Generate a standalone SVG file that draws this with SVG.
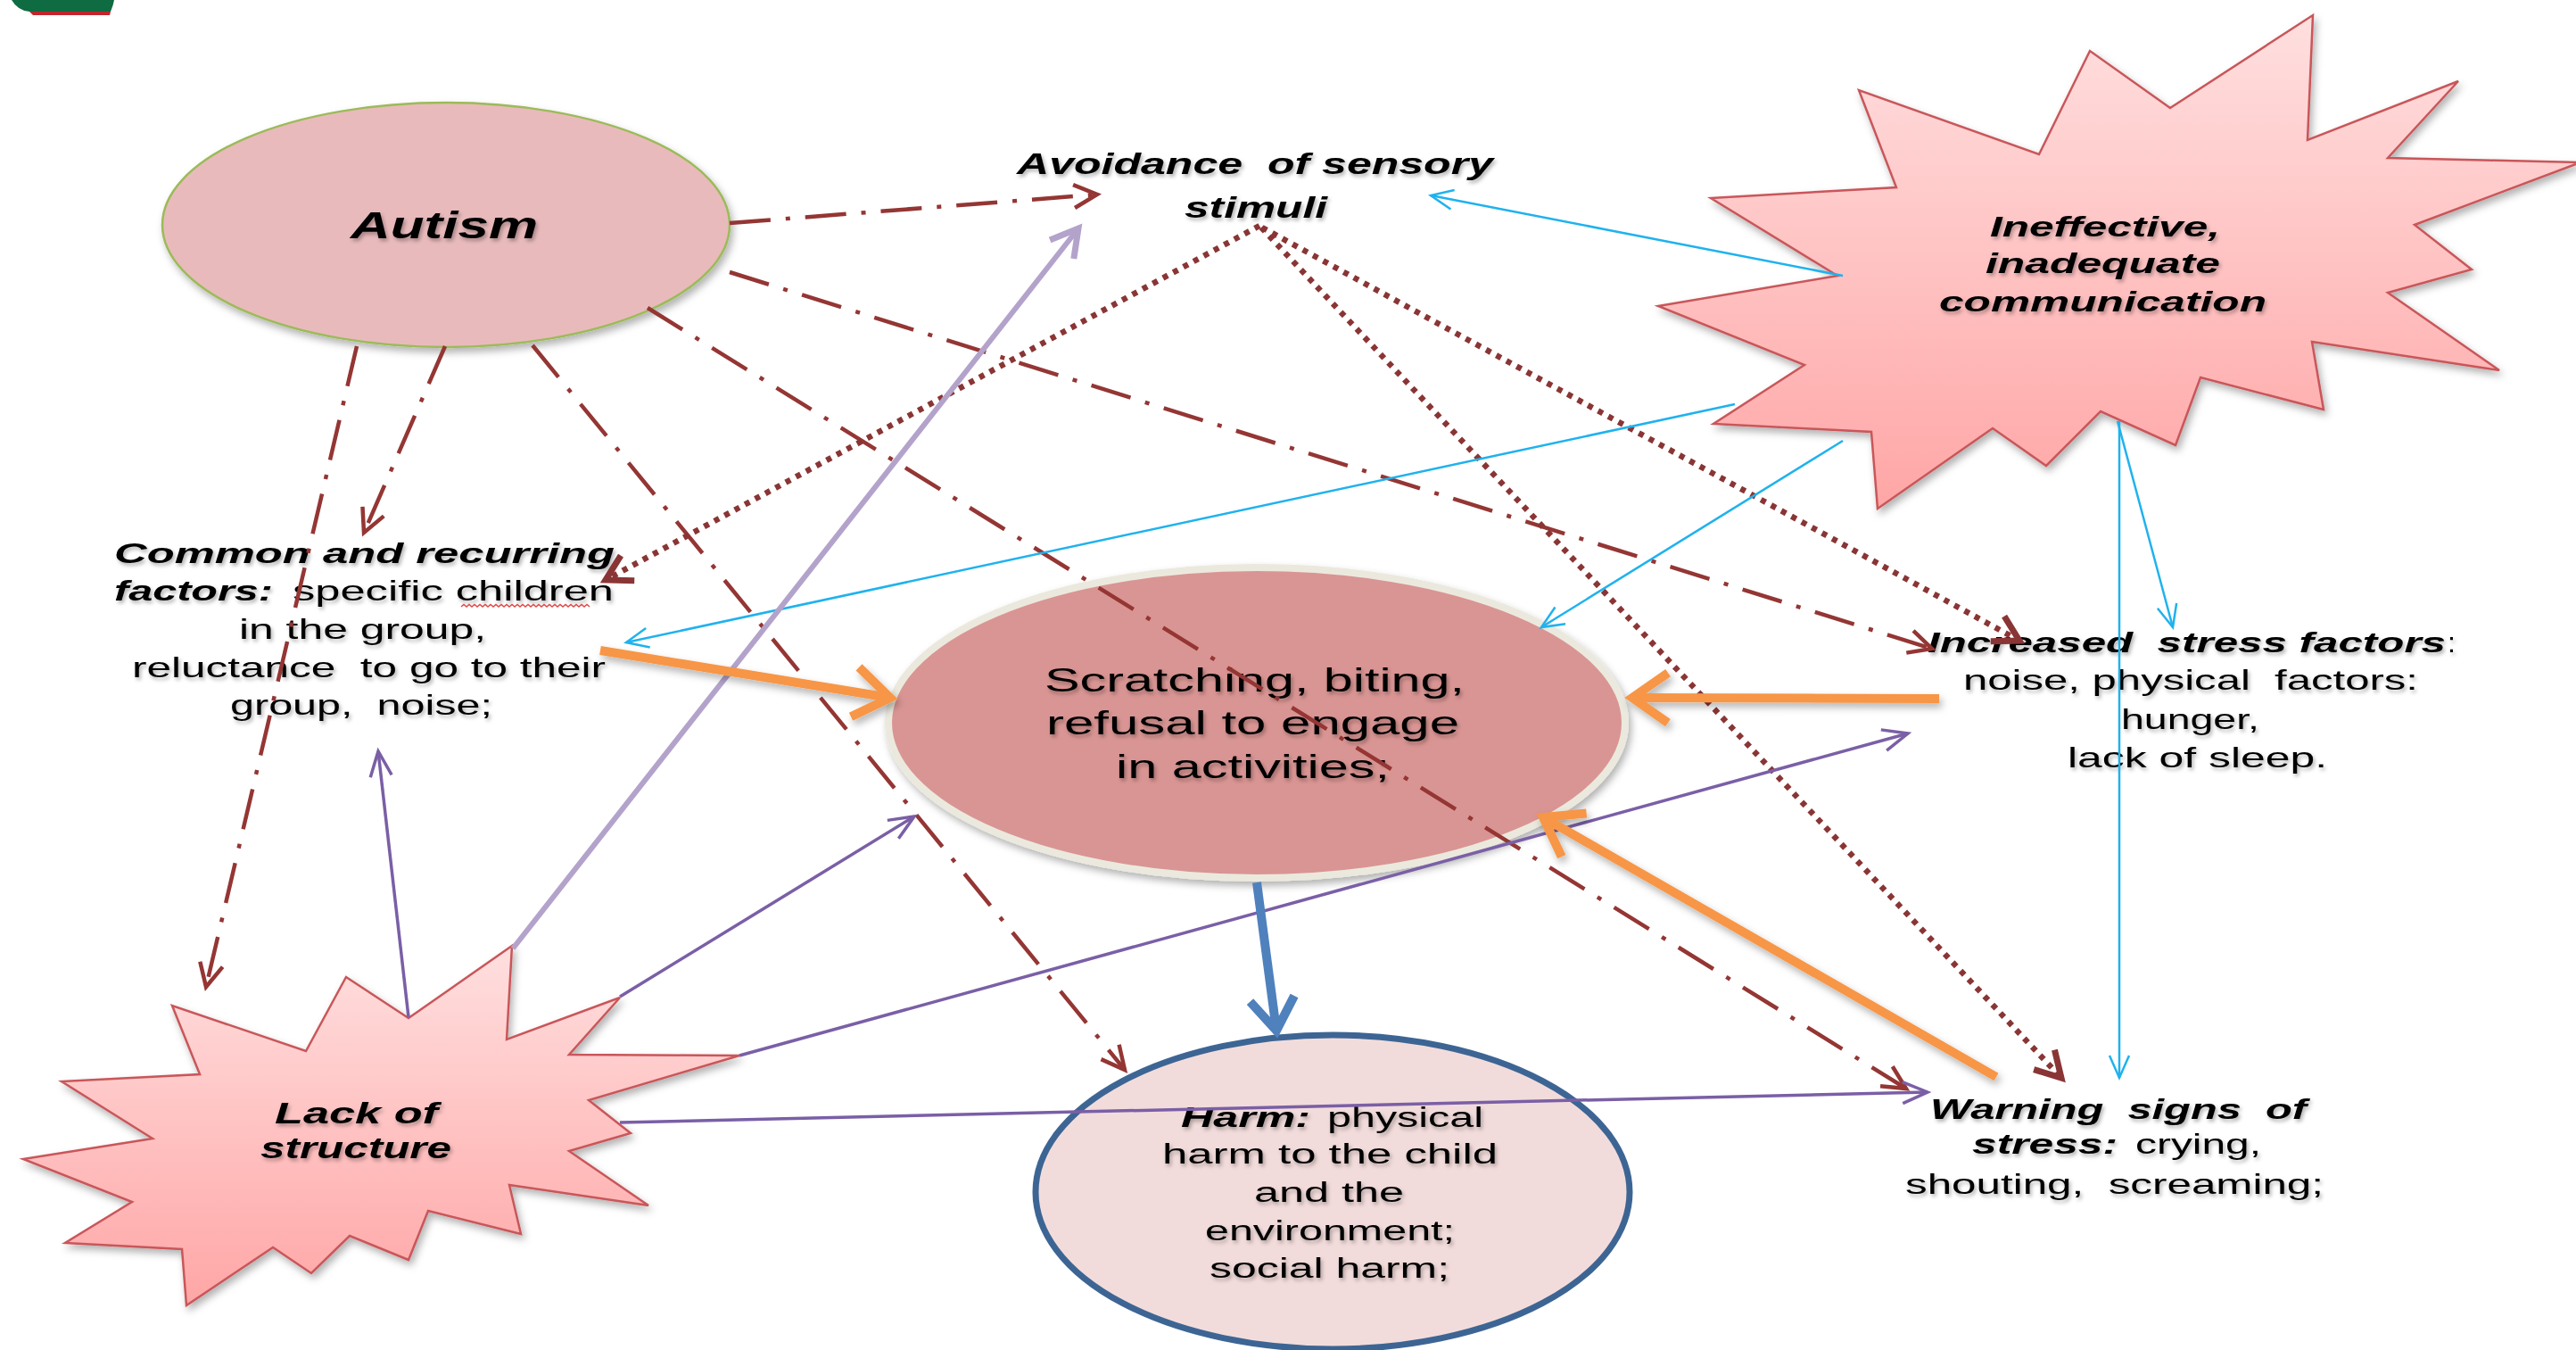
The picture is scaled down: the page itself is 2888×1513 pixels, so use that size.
<svg xmlns="http://www.w3.org/2000/svg" width="2888" height="1513" viewBox="0 0 2888 1513">
<style>
text{font-family:"Liberation Sans",Arial,sans-serif;fill:#000;white-space:pre}
.bi{font-weight:bold;font-style:italic}
.t{filter:url(#tsh)}
.dd{fill:none;stroke:#943634;stroke-width:4.5;stroke-dasharray:46 17 5 17}
.dot{fill:none;stroke:#8a3535;stroke-width:6.5;stroke-dasharray:6 7}
.cy{fill:none;stroke:#1fb2ee;stroke-width:2.5}
.pu{fill:none;stroke:#7a5fa6;stroke-width:3.5}
.lav{fill:none;stroke:#b3a3cb;stroke-width:6}
.or{fill:none;stroke:#f79646;stroke-width:10}
.bl{fill:none;stroke:#4f81bd;stroke-width:10}
.star{stroke:#c9575a;stroke-width:2.5;stroke-linejoin:miter}
</style>
<defs>
<filter id="tsh" filterUnits="userSpaceOnUse" x="0" y="0" width="2888" height="1513">
<feDropShadow dx="2" dy="3" stdDeviation="2" flood-color="#000" flood-opacity="0.3"/>
</filter>
<filter id="sh" filterUnits="userSpaceOnUse" x="0" y="0" width="2888" height="1513">
<feDropShadow dx="3" dy="5" stdDeviation="4" flood-color="#000" flood-opacity="0.3"/>
</filter>
<linearGradient id="gStar" x1="0" y1="0" x2="0" y2="1">
<stop offset="0" stop-color="#ffdfdf"/>
<stop offset="1" stop-color="#ffa6a6"/>
</linearGradient>
<marker id="mBr" markerUnits="userSpaceOnUse" orient="auto" style="overflow:visible">
<path d="M-26,-13 L0,0 L-26,13" fill="none" stroke="#943634" stroke-width="4.5"/>
</marker>
<marker id="mDot" markerUnits="userSpaceOnUse" orient="auto" style="overflow:visible">
<path d="M-28,-16 L0,0 L-28,16" fill="none" stroke="#8a3535" stroke-width="7"/>
</marker>
<marker id="mCy" markerUnits="userSpaceOnUse" orient="auto" style="overflow:visible">
<path d="M-25,-11 L0,0 L-25,11" fill="none" stroke="#1fb2ee" stroke-width="2.5"/>
</marker>
<marker id="mPu" markerUnits="userSpaceOnUse" orient="auto" style="overflow:visible">
<path d="M-28,-12 L0,0 L-28,12" fill="none" stroke="#7a5fa6" stroke-width="3.5"/>
</marker>
<marker id="mLav" markerUnits="userSpaceOnUse" orient="auto" style="overflow:visible">
<path d="M-30,-17 L0,0 L-30,17" fill="none" stroke="#b3a3cb" stroke-width="7"/>
</marker>
<marker id="mOr" markerUnits="userSpaceOnUse" orient="auto" style="overflow:visible">
<path d="M-40,-28 L0,0 L-40,28" fill="none" stroke="#f79646" stroke-width="10"/>
</marker>
<marker id="mBl" markerUnits="userSpaceOnUse" orient="auto" style="overflow:visible">
<path d="M-36,-25 L0,0 L-36,25" fill="none" stroke="#4f81bd" stroke-width="10"/>
</marker>
</defs>
<rect width="2888" height="1513" fill="#fff"/>
<g id="logo">
<path d="M13,0 Q20,12 33,13 L124,13 Q127,6 128,0 Z" fill="#0f6b42"/>
<path d="M33,13 L124,13 L123,17 L37,17 Z" fill="#c0262d"/>
</g>
<g id="node-autism">
<ellipse cx="500" cy="252" rx="318" ry="137" fill="#e9babc" stroke="#9bbb59" stroke-width="2.5" filter="url(#sh)"/>
<text class="bi t" x="393" y="267" font-size="42" textLength="210" lengthAdjust="spacingAndGlyphs">Autism</text>
</g>
<g id="node-avoidance">
<text class="bi t" x="1140" y="195" font-size="33" textLength="534" lengthAdjust="spacingAndGlyphs">Avoidance  of sensory</text>
<text class="bi t" x="1328" y="244" font-size="33" textLength="160" lengthAdjust="spacingAndGlyphs">stimuli</text>
</g>
<g id="node-ineffective">
<polygon class="star" fill="url(#gStar)" filter="url(#sh)" points="2593,17 2587,157 2756,91 2677,177 2893,182 2707,252 2771,302 2677,328 2802,415 2592,383 2605,459 2467,423 2439,499 2355,461 2294,522 2234,480 2105,570 2098,484 1921,475 2023,409 1859,343 2060,309 1918,222 2126,210 2084,101 2286,173 2343,57 2433,121"/>
<text class="bi t" x="2231" y="265" font-size="31" textLength="258" lengthAdjust="spacingAndGlyphs">Ineffective,</text>
<text class="bi t" x="2226" y="306" font-size="31" textLength="263" lengthAdjust="spacingAndGlyphs">inadequate</text>
<text class="bi t" x="2174" y="349" font-size="31" textLength="367" lengthAdjust="spacingAndGlyphs">communication</text>
</g>
<g id="node-common">
<text class="bi t" x="128" y="631" font-size="31" textLength="561" lengthAdjust="spacingAndGlyphs">Common and recurring</text>
<text class="bi t" x="128" y="673" font-size="31" textLength="178" lengthAdjust="spacingAndGlyphs">factors:</text>
<text class="t" x="328" y="673" font-size="32" textLength="360" lengthAdjust="spacingAndGlyphs">specific children</text>
<path d="M517,680 l3,-2.5 l3,2.5 l3,-2.5 l3,2.5 l3,-2.5 l3,2.5 l3,-2.5 l3,2.5 l3,-2.5 l3,2.5 l3,-2.5 l3,2.5 l3,-2.5 l3,2.5 l3,-2.5 l3,2.5 l3,-2.5 l3,2.5 l3,-2.5 l3,2.5 l3,-2.5 l3,2.5 l3,-2.5 l3,2.5 l3,-2.5 l3,2.5 l3,-2.5 l3,2.5 l3,-2.5 l3,2.5 l3,-2.5 l3,2.5 l3,-2.5 l3,2.5 l3,-2.5 l3,2.5 l3,-2.5 l3,2.5 l3,-2.5 l3,2.5 l3,-2.5 l3,2.5 l3,-2.5 l3,2.5 l3,-2.5 l3,2.5 l3,-2.5 l3,2.5" fill="none" stroke="#e04848" stroke-width="1.5"/>
<text class="t" x="268" y="716" font-size="32" textLength="277" lengthAdjust="spacingAndGlyphs">in the group,</text>
<text class="t" x="148" y="759" font-size="32" textLength="531" lengthAdjust="spacingAndGlyphs">reluctance  to go to their</text>
<text class="t" x="258" y="801" font-size="32" textLength="294" lengthAdjust="spacingAndGlyphs">group,  noise;</text>
</g>
<g id="node-scratching">
<ellipse cx="1409" cy="810" rx="413" ry="174" fill="#d99593" stroke="#ebe9dd" stroke-width="8" filter="url(#sh)"/>
<text class="t" x="1171" y="775" font-size="37" textLength="471" lengthAdjust="spacingAndGlyphs">Scratching, biting,</text>
<text class="t" x="1173" y="823" font-size="37" textLength="463" lengthAdjust="spacingAndGlyphs">refusal to engage</text>
<text class="t" x="1251" y="872" font-size="37" textLength="307" lengthAdjust="spacingAndGlyphs">in activities;</text>
</g>
<g id="node-increased">
<text class="bi t" x="2161" y="731" font-size="32" textLength="581" lengthAdjust="spacingAndGlyphs">Increased  stress factors</text>
<text class="t" x="2744" y="731" font-size="32">:</text>
<text class="t" x="2201" y="773" font-size="32" textLength="510" lengthAdjust="spacingAndGlyphs">noise, physical  factors:</text>
<text class="t" x="2378" y="817" font-size="32" textLength="155" lengthAdjust="spacingAndGlyphs">hunger,</text>
<text class="t" x="2318" y="860" font-size="32" textLength="291" lengthAdjust="spacingAndGlyphs">lack of sleep.</text>
</g>
<g id="node-lack">
<polygon class="star" fill="url(#gStar)" filter="url(#sh)" points="574,1060 568,1165 695,1118 638,1182 829,1183 660,1233 707,1270 638,1290 727,1351 571,1328 584,1383 480,1357 458,1412 392,1385 349,1427 306,1398 209,1463 204,1400 73,1393 148,1347 26,1299 171,1276 69,1212 224,1204 193,1127 343,1178 388,1095 458,1141"/>
<text class="bi t" x="308" y="1259" font-size="33" textLength="183" lengthAdjust="spacingAndGlyphs">Lack of</text>
<text class="bi t" x="292" y="1298" font-size="33" textLength="214" lengthAdjust="spacingAndGlyphs">structure</text>
</g>
<g id="node-harm">
<ellipse cx="1494" cy="1336" rx="333" ry="176" fill="#f2dcdb" stroke="#3d6594" stroke-width="7"/>
<text class="bi t" x="1324" y="1263" font-size="31" textLength="145" lengthAdjust="spacingAndGlyphs">Harm:</text>
<text class="t" x="1488" y="1263" font-size="31" textLength="175" lengthAdjust="spacingAndGlyphs">physical</text>
<text class="t" x="1303" y="1304" font-size="31" textLength="376" lengthAdjust="spacingAndGlyphs">harm to the child</text>
<text class="t" x="1406" y="1347" font-size="31" textLength="168" lengthAdjust="spacingAndGlyphs">and the</text>
<text class="t" x="1351" y="1390" font-size="31" textLength="280" lengthAdjust="spacingAndGlyphs">environment;</text>
<text class="t" x="1356" y="1432" font-size="31" textLength="269" lengthAdjust="spacingAndGlyphs">social harm;</text>
</g>
<g id="node-warning">
<text class="bi t" x="2164" y="1254" font-size="32" textLength="422" lengthAdjust="spacingAndGlyphs">Warning  signs  of</text>
<text class="bi t" x="2211" y="1293" font-size="32" textLength="163" lengthAdjust="spacingAndGlyphs">stress:</text>
<text class="t" x="2394" y="1293" font-size="32" textLength="141" lengthAdjust="spacingAndGlyphs">crying,</text>
<text class="t" x="2136" y="1338" font-size="32" textLength="469" lengthAdjust="spacingAndGlyphs">shouting,  screaming;</text>
</g>
<g id="connectors">
<path class="dd" d="M818,250 L1230,218" marker-end="url(#mBr)"/>
<path class="dd" d="M818,305 L2166,727" marker-end="url(#mBr)"/>
<path class="dd" d="M726,345 L2137,1220" marker-end="url(#mBr)"/>
<path class="dd" d="M597,387 L1261,1199" marker-end="url(#mBr)"/>
<path class="dd" d="M499,388 L408,597" marker-end="url(#mBr)"/>
<path class="dd" d="M400,388 L231,1106" marker-end="url(#mBr)"/>
<path class="dot" d="M1412,253 L679,650" marker-end="url(#mDot)"/>
<path class="dot" d="M1415,255 L2264,718" marker-end="url(#mDot)"/>
<path class="dot" d="M1414,255 L2311,1208" marker-end="url(#mDot)"/>
<path class="cy" d="M2066,309 L1604,219" marker-end="url(#mCy)"/>
<path class="cy" d="M1945,453 L702,720" marker-end="url(#mCy)"/>
<path class="cy" d="M2066,494 L1728,703" marker-end="url(#mCy)"/>
<path class="cy" d="M2374,472 L2436,703" marker-end="url(#mCy)"/>
<path class="cy" d="M2376,472 L2376,1208" marker-end="url(#mCy)"/>
<path class="pu" d="M458,1140 L424,842" marker-end="url(#mPu)"/>
<path class="pu" d="M695,1117 L1025,915" marker-end="url(#mPu)"/>
<path class="pu" d="M829,1183 L2139,822" marker-end="url(#mPu)"/>
<path class="pu" d="M695,1258 L2161,1224" marker-end="url(#mPu)"/>
<path class="lav" d="M575,1063 L1209,256" marker-end="url(#mLav)"/>
<g filter="url(#sh)">
<path class="or" d="M673,729 L998,782" marker-end="url(#mOr)"/>
<path class="or" d="M2174,783 L1830,782" marker-end="url(#mOr)"/>
<path class="or" d="M2238,1207 L1730,916" marker-end="url(#mOr)"/>
</g>
<path class="bl" d="M1409,989 L1431,1155" marker-end="url(#mBl)"/>
</g>
</svg>
